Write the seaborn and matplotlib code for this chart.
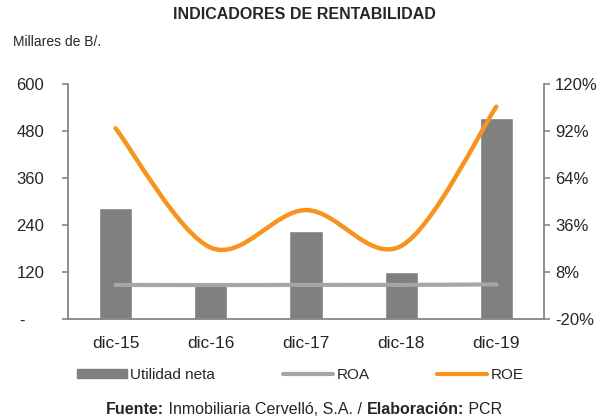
import matplotlib
matplotlib.use("Agg")
import matplotlib.pyplot as plt
from matplotlib.path import Path
from matplotlib.patches import PathPatch, Patch
from matplotlib.lines import Line2D
import numpy as np
import pandas as pd
import seaborn as sns

# data
periodos = ["dic-15", "dic-16", "dic-17", "dic-18", "dic-19"]
utilidad_neta = [283, 92, 224, 121, 514]        # Millares de B/.
roa = [0.3, 0.2, 0.3, 0.3, 0.6]                 # %
roe = [93.6, 22.5, 44.9, 23.5, 106.5]           # %

left_ticks = [0, 120, 240, 360, 480, 600]
right_ticks = [-20, 8, 36, 64, 92, 120]

BAR = "#808080"
ROA_C = "#A6A6A6"
ROE_C = "#F7941D"
AXC = "#868686"

sns.set_style("white")
plt.rcParams["font.family"] = ["Liberation Sans", "DejaVu Sans"]


def smooth_path(xs, ys):
    # Excel-like smoothed line: cubic bezier through the points
    pts = np.column_stack([xs, ys]).astype(float)
    n = len(pts)
    verts = [tuple(pts[0])]
    codes = [Path.MOVETO]
    for i in range(n - 1):
        p0 = pts[i - 1] if i > 0 else pts[i]
        p1, p2 = pts[i], pts[i + 1]
        p3 = pts[i + 2] if i + 2 < n else pts[i + 1]
        c1 = p1 + (p2 - p0) / 6
        c2 = p2 - (p3 - p1) / 6
        verts += [tuple(c1), tuple(c2), tuple(p2)]
        codes += [Path.CURVE4] * 3
    return Path(verts, codes)


df = pd.DataFrame({"periodo": periodos, "utilidad": utilidad_neta})

fig = plt.figure(figsize=(6.08, 4.2), dpi=100)
ax = fig.add_axes([0.1118, 0.2405, 0.7829, 0.5595])
sns.barplot(data=df, x="periodo", y="utilidad", color=BAR, width=0.35,
            saturation=1, ax=ax)
ax.set_xlim(-0.5, 4.5)
ax.set_ylim(0, 600)
ax.set_yticks(left_ticks)
ax.set_yticklabels(["-    "] + [str(t) for t in left_ticks[1:]])
ax.set_xlabel("")
ax.set_ylabel("")
ax.set_xticks(range(5))
ax.set_xticklabels(periodos)
ax.set_xticks(np.arange(-0.5, 5, 1), minor=True)
ax.tick_params(axis="x", which="major", length=0, pad=12, labelsize=12.5)
ax.tick_params(axis="x", which="minor", length=4, color=AXC, width=1.2, direction="out")
ax.tick_params(axis="y", length=4, color=AXC, width=1.2, direction="out", labelsize=12, pad=13)
for s in ["top", "right"]:
    ax.spines[s].set_visible(False)
for s in ["left", "bottom"]:
    ax.spines[s].set_color(AXC)
    ax.spines[s].set_linewidth(1.3)

ax2 = ax.twinx()
ax2.set_ylim(-20, 120)
ax2.set_yticks(right_ticks)
ax2.set_yticklabels([f"{t}%" for t in right_ticks])
ax2.tick_params(axis="y", length=4, color=AXC, width=1.2, direction="out", labelsize=12, pad=4)
for s in ["top", "left", "bottom"]:
    ax2.spines[s].set_visible(False)
ax2.spines["right"].set_color(AXC)
ax2.spines["right"].set_linewidth(1.3)

xs = np.arange(len(periodos))
ax2.add_patch(PathPatch(smooth_path(xs, roa), facecolor="none", edgecolor=ROA_C,
                        lw=3, capstyle="round"))
ax2.add_patch(PathPatch(smooth_path(xs, roe), facecolor="none", edgecolor=ROE_C,
                        lw=3.2, capstyle="round"))

fig.text(0.5, 0.965, "INDICADORES DE RENTABILIDAD", ha="center", va="center",
         fontsize=11.5, fontweight="bold")
fig.text(0.022, 0.9, "Millares de B/.", ha="left", va="center", fontsize=10)

# legend: three entries placed along the bottom
entries = [(Patch(color=BAR), "Utilidad neta", 77),
           (Line2D([], [], color=ROA_C, lw=3), "ROA", 283),
           (Line2D([], [], color=ROE_C, lw=3), "ROE", 437)]
for h, lab, xpix in entries:
    fig.legend([h], [lab], loc="center left", bbox_to_anchor=(xpix / 608, 0.107),
               frameon=False, fontsize=11, handlelength=3.3, handleheight=0.55,
               handletextpad=0.2, borderpad=0, borderaxespad=0)

# source line with bold parts
parts = [("Fuente:", "bold"), (" Inmobiliaria Cervelló, S.A. / ", "normal"),
         ("Elaboración:", "bold"), (" PCR", "normal")]
fig.canvas.draw()
r = fig.canvas.get_renderer()
texts = [fig.text(0, 0.024, s, fontsize=11.5, fontweight=w, va="center", ha="left")
         for s, w in parts]
widths = [t.get_window_extent(r).width for t in texts]
x = (608 - sum(widths)) / 2
for t, w in zip(texts, widths):
    t.set_x(x / 608)
    x += w

fig.savefig("out.png", dpi=100)
